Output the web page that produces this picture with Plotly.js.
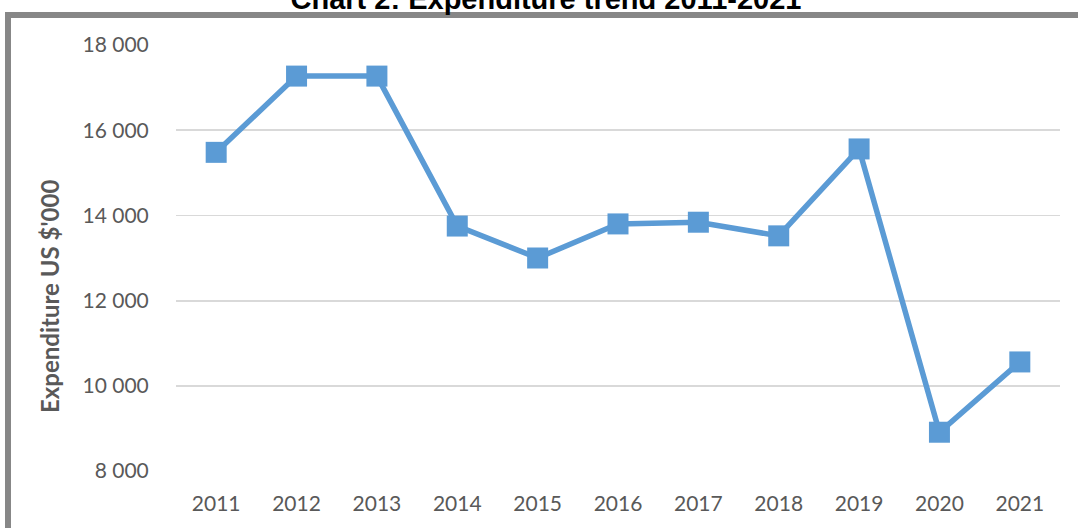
<!DOCTYPE html>
<html>
<head>
<meta charset="utf-8">
<script src="https://cdn.plot.ly/plotly-3.0.1.min.js"></script>
<style>
html,body{margin:0;padding:0;background:#fff;overflow:hidden;}
#chart{width:1078px;height:528px;}
</style>
</head>
<body>
<div id="chart"></div>
<script>
var years = ['2011','2012','2013','2014','2015','2016','2017','2018','2019','2020','2021'];
var expenditure = [15480, 17270, 17270, 13750, 13000, 13800, 13840, 13520, 15560, 8910, 10560];
var yTicks = [8000, 10000, 12000, 14000, 16000, 18000];

var W = 1078, H = 528;
var L = 176, R = 18, T = 45, B = 57;
var pw = W - L - R, ph = H - T - B;
function px(x){ return (x - L) / pw; }
function py(y){ return 1 - (y - T) / ph; }

var trace = {
  x: years,
  y: expenditure,
  type: 'scatter',
  mode: 'lines+markers',
  line: {color: '#5B9BD5', width: 5.5},
  marker: {symbol: 'square', size: 21, color: '#5B9BD5', line: {width: 0}},
  hoverinfo: 'x+y'
};

var layout = {
  width: W, height: H,
  margin: {l: L, r: R, t: T, b: B, pad: 0},
  paper_bgcolor: '#ffffff',
  plot_bgcolor: '#ffffff',
  separators: '. ',
  showlegend: false,
  title: {
    text: 'Chart 2: Expenditure trend 2011-2021',
    font: {family: 'Liberation Sans, Arial, sans-serif', size: 29, color: '#000000', weight: 'bold'},
    x: px(546), xref: 'paper', xanchor: 'center',
    y: 1 - 9 / H, yref: 'container', yanchor: 'bottom'
  },
  xaxis: {
    type: 'category',
    range: [-0.5, 10.5],
    showgrid: false,
    showline: false,
    zeroline: false,
    ticks: 'outside', ticklen: 14, tickcolor: 'rgba(0,0,0,0)',
    tickfont: {family: 'Lato, Carlito, Calibri, sans-serif', size: 21, color: '#595959'},
    fixedrange: true
  },
  yaxis: {
    range: [8000, 18000],
    tickvals: yTicks,
    tickformat: ',d',
    showgrid: true, gridcolor: '#D9D9D9', gridwidth: 1.8,
    zeroline: false, showline: false,
    ticks: 'outside', ticklen: 22, tickcolor: 'rgba(0,0,0,0)',
    tickfont: {family: 'Lato, Carlito, Calibri, sans-serif', size: 21, color: '#595959'},
    fixedrange: true
  },
  annotations: [{
    text: "Expenditure US $'000",
    xref: 'paper', yref: 'paper',
    x: px(49), y: py(297),
    xanchor: 'center', yanchor: 'middle',
    textangle: -90, showarrow: false,
    font: {family: 'Lato, Carlito, Calibri, sans-serif', size: 24, color: '#595959', weight: 'bold'}
  }],
  shapes: [{
    type: 'rect', xref: 'paper', yref: 'paper',
    x0: px(8), x1: px(W + 40), y0: py(H + 40), y1: py(15),
    line: {color: '#878787', width: 6},
    fillcolor: 'rgba(0,0,0,0)', layer: 'below'
  }]
};

Plotly.newPlot('chart', [trace], layout, {displayModeBar: false, staticPlot: true});
</script>
</body>
</html>
